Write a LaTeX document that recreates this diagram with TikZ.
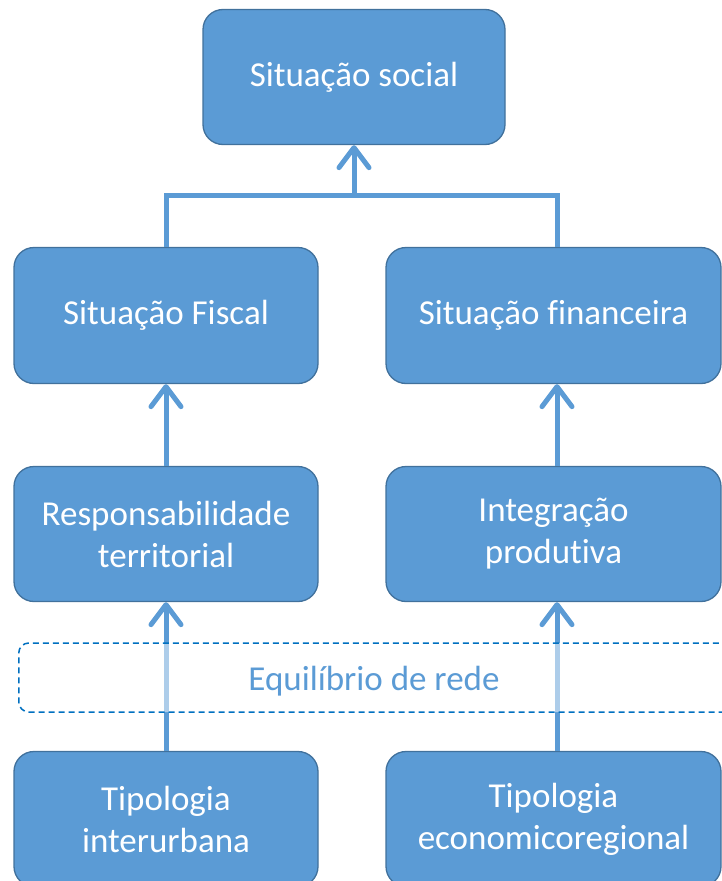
\documentclass[tikz,border=0pt]{standalone}
\usepackage{fontspec}
\setmainfont{Carlito}[Ligatures={NoCommon,NoContextual,NoRequired}]
\usetikzlibrary{arrows.meta}
\definecolor{boxfill}{HTML}{5B9BD5}
\definecolor{boxline}{HTML}{41719C}
\definecolor{dashblue}{HTML}{0070C0}
\begin{document}
\begin{tikzpicture}[x=1pt,y=-1pt,
  blk/.style={draw=boxline,line width=1.3pt,fill=boxfill,rounded corners=20pt,
    text=white,align=center,inner sep=0pt,
    font=\fontsize{35}{42}\selectfont},
  conn/.style={draw=boxfill,line width=5pt},
  arr/.style={conn,-{Straight Barb[length=20pt,width=30pt,line cap=round,line join=round]}}]
\useasboundingbox (0,0) rectangle (722,881);
\node[blk,minimum width=302pt,minimum height=135pt] (top) at (354,77) {Situação social};
\node[blk,minimum width=304pt,minimum height=136pt] (fiscal) at (166,315.5) {Situação Fiscal};
\node[blk,minimum width=335pt,minimum height=136pt] (fin) at (553.5,315.5) {Situação financeira};
\node[blk,minimum width=304pt,minimum height=135pt] (resp) at (166,534) {Responsabilidade\\territorial};
\node[blk,minimum width=335pt,minimum height=135pt] (integ) at (553.5,534) {Integração\\produtiva};
\node[blk,minimum width=304pt,minimum height=135pt] (tip1) at (166,819) {Tipologia\\interurbana};
\node[blk,minimum width=335pt,minimum height=135pt] (tip2) at (553.5,819) {Tipologia\\economicoregional};
\coordinate (rx) at (557,0);
\coordinate (j) at (354,195);
% connectors
\draw[conn] (fiscal.north) |- (j) -| (rx |- fin.north);
\draw[arr] (j) -- (top.south);
\draw[arr] (resp.north) -- (fiscal.south);
\draw[arr] (rx |- integ.north) -- (rx |- fin.south);
\draw[arr] (tip1.north) -- (resp.south);
\draw[arr] (rx |- tip2.north) -- (rx |- integ.south);
% dashed region
\node[draw=dashblue,line width=1.5pt,dash pattern=on 6pt off 4pt,rounded corners=10pt,
  fill=white,fill opacity=0.5,
  minimum width=730pt,minimum height=69pt,inner sep=0pt,anchor=west] (eq) at (18,677.5) {};
\node[text=boxfill,font=\fontsize{35}{42}\selectfont,inner sep=0pt] (eqt) at (374,681) {Equilíbrio de rede};
\end{tikzpicture}
\end{document}
